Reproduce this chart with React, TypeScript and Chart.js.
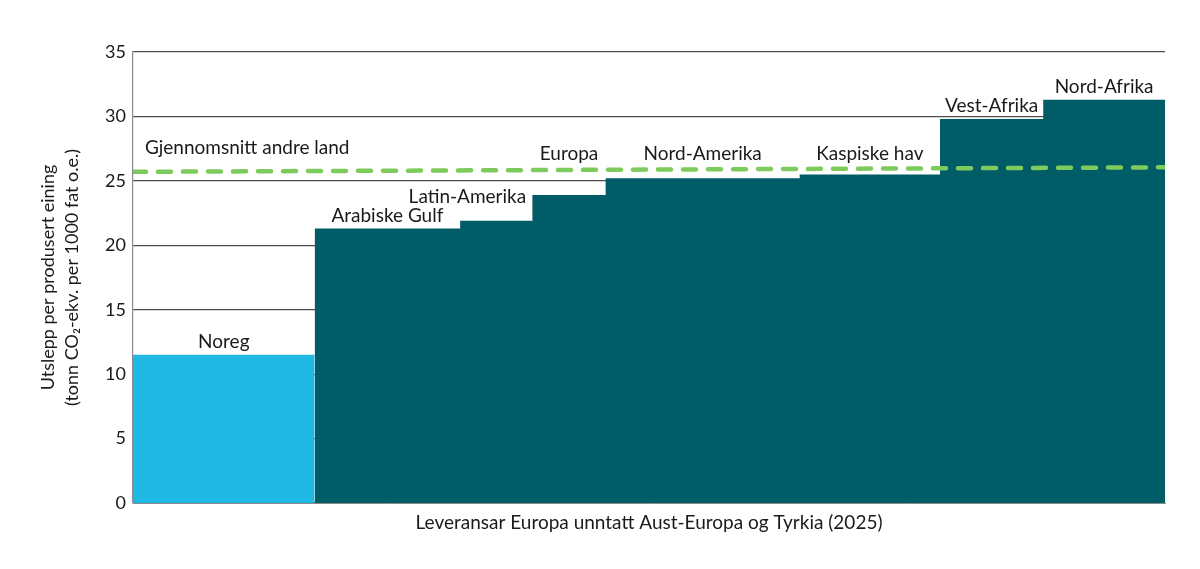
import { useEffect, useRef } from "react";
import { Chart, registerables, type ChartConfiguration, type Plugin } from "chart.js";

Chart.register(...registerables);

// Regionar i rekkjefølgje frå lågast til høgast utslepp
const REGIONS = [
  "Noreg",
  "Arabiske Gulf",
  "Latin-Amerika",
  "Europa",
  "Nord-Amerika",
  "Kaspiske hav",
  "Vest-Afrika",
  "Nord-Afrika",
];
// del av leveransane (breidda på søyla), prosent
const VOLUMES = [17.6, 14.1, 7.0, 7.1, 18.8, 13.6, 10.0, 11.8];
// utslepp, tonn CO2-ekv. per 1000 fat o.e.
const EMISSIONS = [11.5, 21.3, 21.9, 23.9, 25.2, 25.5, 29.8, 31.3];
// gjennomsnitt andre land (start, slutt)
const AVERAGE = [25.7, 26.05];
const AVERAGE_LABEL = "Gjennomsnitt andre land";
const Y_TICKS = [0, 5, 10, 15, 20, 25, 30, 35];

const Y_TITLE = ["Utslepp per produsert eining", "(tonn CO₂-ekv. per 1000 fat o.e.)"];
const X_TITLE = "Leveransar Europa unntatt Aust-Europa og Tyrkia (2025)";

const FONT = "Lato, 'Open Sans', sans-serif";
const TEXT = "#1a1a1a";
const NOREG_BLUE = "#1fb8e3";
const TEAL = "#005c66";
const GREEN = "#7ccb5c";

// plassering av etikettar som ikkje står rett over søyla (dataeiningar)
const LABEL_SPOTS: Record<string, { x?: number; y?: number }> = {
  "Latin-Amerika": { x: 32.4, y: 23.3 },
  Europa: { y: 26.6 },
  "Nord-Amerika": { y: 26.6 },
  "Kaspiske hav": { y: 26.6 },
};
const AVERAGE_SPOT = { x: 1.16, y: 27.1 };

const starts = VOLUMES.map((_, i) => VOLUMES.slice(0, i).reduce((a, b) => a + b, 0));
const total = VOLUMES.reduce((a, b) => a + b, 0);

const labelPlugin: Plugin<"line"> = {
  id: "segmentLabels",
  afterDatasetsDraw(chart) {
    const { ctx } = chart;
    const x = chart.scales.x;
    const y = chart.scales.y;
    ctx.save();
    ctx.font = `19px ${FONT}`;
    ctx.fillStyle = TEXT;
    ctx.textBaseline = "alphabetic";
    ctx.textAlign = "center";
    REGIONS.forEach((name, i) => {
      const spot = LABEL_SPOTS[name] ?? {};
      const cx = x.getPixelForValue(spot.x ?? starts[i] + VOLUMES[i] / 2);
      const by =
        spot.y !== undefined
          ? y.getPixelForValue(spot.y)
          : y.getPixelForValue(EMISSIONS[i]) - 7;
      ctx.fillText(name, cx, by);
    });
    ctx.textAlign = "left";
    ctx.fillText(
      AVERAGE_LABEL,
      x.getPixelForValue(AVERAGE_SPOT.x),
      y.getPixelForValue(AVERAGE_SPOT.y)
    );
    ctx.restore();
  },
};

function buildConfig(): ChartConfiguration<"line"> {
  const noreg = [
    { x: starts[0], y: EMISSIONS[0] },
    { x: starts[0] + VOLUMES[0], y: EMISSIONS[0] },
  ];
  const others = REGIONS.slice(1).map((_, k) => ({ x: starts[k + 1], y: EMISSIONS[k + 1] }));
  others.push({ x: total, y: EMISSIONS[EMISSIONS.length - 1] });
  const average = [
    { x: 0, y: AVERAGE[0] },
    { x: total, y: AVERAGE[1] },
  ];

  return {
    type: "line",
    data: {
      datasets: [
        {
          label: AVERAGE_LABEL,
          data: average,
          borderColor: GREEN,
          borderWidth: 4.5,
          borderDash: [13, 12],
          borderCapStyle: "round",
          pointRadius: 0,
          fill: false,
          order: 0,
        },
        {
          label: "Noreg",
          data: noreg,
          stepped: "before",
          borderWidth: 0,
          borderColor: NOREG_BLUE,
          backgroundColor: NOREG_BLUE,
          pointRadius: 0,
          fill: "origin",
          order: 1,
        },
        {
          label: "Andre land",
          data: others,
          stepped: "before",
          borderWidth: 0,
          borderColor: TEAL,
          backgroundColor: TEAL,
          pointRadius: 0,
          fill: "origin",
          order: 2,
        },
      ],
    },
    options: {
      responsive: false,
      animation: false,
      devicePixelRatio: 1,
      layout: { padding: { top: 52, right: 35, left: 0, bottom: 0 } },
      plugins: {
        legend: { display: false },
        tooltip: { enabled: false },
      },
      scales: {
        x: {
          type: "linear",
          min: 0,
          max: total,
          ticks: { display: false },
          grid: { display: false, drawTicks: false },
          border: { display: true, color: "#8a8a8a", width: 1 },
          title: {
            display: true,
            text: X_TITLE,
            color: TEXT,
            font: { family: FONT, size: 19 },
            padding: { top: 0, bottom: 35 },
          },
          afterFit(scale) {
            scale.height = 66;
          },
        },
        y: {
          type: "linear",
          min: Y_TICKS[0],
          max: Y_TICKS[Y_TICKS.length - 1],
          ticks: {
            stepSize: Y_TICKS[1] - Y_TICKS[0],
            color: TEXT,
            font: { family: FONT, size: 18 },
            padding: 7,
          },
          grid: { color: "#4d4d4d", lineWidth: 1.2, drawTicks: false },
          border: { display: true, color: "#8a8a8a", width: 1.2 },
          title: {
            display: true,
            text: Y_TITLE,
            color: TEXT,
            font: { family: FONT, size: 18, lineHeight: 1.33 },
            padding: { top: 36, bottom: 0 },
          },
          afterFit(scale) {
            scale.width = 133;
          },
        },
      },
    },
    plugins: [labelPlugin],
  };
}

export default function App() {
  const canvasRef = useRef<HTMLCanvasElement>(null);

  useEffect(() => {
    const canvas = canvasRef.current;
    if (!canvas) return;
    const chart = new Chart(canvas, buildConfig());
    return () => chart.destroy();
  }, []);

  return (
    <div style={{ position: "fixed", left: 0, top: 0, width: 1200, height: 569, background: "#fff" }}>
      <canvas ref={canvasRef} width={1200} height={569} />
    </div>
  );
}
